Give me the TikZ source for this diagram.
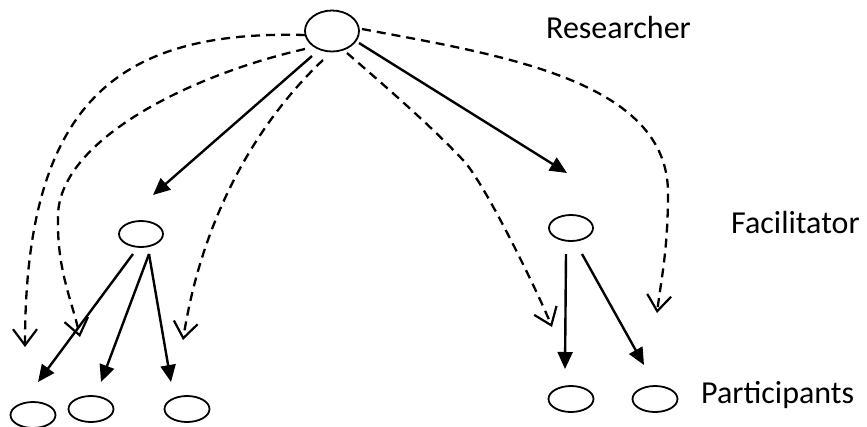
\documentclass[tikz,border=0pt]{standalone}
\usepackage{fontspec}
\setmainfont{Carlito}
\usetikzlibrary{shapes.geometric,arrows.meta,calc}
\begin{document}
\begin{tikzpicture}[x=1pt,y=-1pt,
  oval/.style={draw,ellipse,line width=1.8pt,inner sep=0pt,minimum width=44pt,minimum height=26pt},
  solidarrow/.style={line width=2.4pt,-{Triangle[length=17pt,width=15pt]}},
  dasharrow/.style={line width=2.3pt,dash pattern=on 9pt off 6pt,-{Straight Barb[length=16pt,width=24pt,line width=2.2pt]}},
  lbl/.style={anchor=base west,inner sep=0pt,font=\fontsize{32}{38}\selectfont}]
\path[use as bounding box] (0,0) rectangle (867,426);
\node[oval,minimum width=54pt,minimum height=41pt] (R) at (332,31) {};
\node[oval] (F1) at (141,234) {};
\node[oval] (F2) at (571,228) {};
\node[oval,minimum width=45pt] (P1) at (33,415) {};
\node[oval,minimum width=45pt] (P2) at (91,409) {};
\node[oval,minimum width=45pt] (P3) at (187,409) {};
\node[oval,minimum width=45pt] (P4) at (571,399) {};
\node[oval,minimum width=45pt] (P5) at (655,399) {};
\node[lbl] (tR) at (546,38) {Researcher};
\node[lbl] (tF) at (731,233) {Facilitator};
\node[lbl] (tP) at (701,403) {Participants};
% solid arrows
\draw[solidarrow] ($(R)+(-20,25)$) -- ($(F1)+(12,-39)$);
\draw[solidarrow] ($(R)+(27,12)$) -- ($(F2)+(-4,-55)$);
\draw[solidarrow] ($(F1)+(-8,20)$) -- ($(P1)+(5,-33)$);
\draw[solidarrow] ($(F1)+(8,20)$) -- ($(P2)+(10,-27)$);
\draw[solidarrow] ($(F1)+(8,20)$) -- ($(P3)+(-16,-27)$);
\draw[solidarrow] ($(F2)+(-5,26)$) -- ($(P4)+(-6,-30)$);
\draw[solidarrow] ($(F2)+(11,26)$) -- ($(P5)+(-11,-34)$);
% dashed arrows
\draw[dasharrow] ($(R)+(-27,4)$) .. controls (120,30) and (25,100) .. ($(P1)+(-8,-68)$);
\draw[dasharrow] ($(R)+(-27,18)$) .. controls (190,75) and (60,140) .. (58,215) .. controls (56.5,270) and (72,300) .. ($(P2)+(-11,-72)$);
\draw[dasharrow] ($(R)+(-9,29)$) .. controls (270,110) and (205,200) .. ($(P3)+(-4,-69)$);
\draw[dasharrow] ($(R)+(15,22)$) .. controls (385,86) and (430,125) .. (463,160) .. controls (485,183) and (540,297) .. ($(P4)+(-19,-72)$);
\draw[dasharrow] ($(R)+(30,-2)$) .. controls (500,55) and (668,80) .. (668,193) .. controls (668,250) and (661,280) .. ($(P5)+(2,-86)$);
\end{tikzpicture}
\end{document}
